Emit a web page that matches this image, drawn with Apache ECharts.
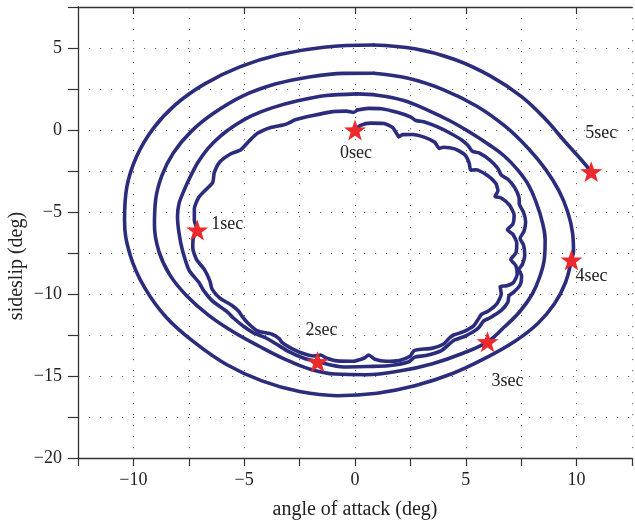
<!DOCTYPE html>
<html>
<head>
<meta charset="utf-8">
<script src="https://cdn.jsdelivr.net/npm/echarts@6/dist/echarts.min.js"></script>
<style>
  html, body { margin: 0; padding: 0; background: #fff; }
  #chart { width: 635px; height: 528px; }
</style>
</head>
<body>
<div id="chart"></div>
<script>
// Trajectory in the (angle of attack, sideslip) plane, one array per revolution, clockwise from the top.
const loop1 = [
  [0,0],[0.25,0.28],[0.7,0.42],[1.3,0.4],[1.7,0.15],[1.92,-0.3],[1.97,-0.42],
  [2.15,-0.28],[2.6,-0.27],[3.15,-0.45],[3.6,-0.75],[3.8,-1.12],
  [4.0,-1.05],[4.5,-1.15],[4.95,-1.5],[5.15,-2.0],[5.22,-2.45],
  [5.45,-2.42],[5.95,-2.75],[6.35,-3.25],[6.45,-3.7],[6.32,-4.05],
  [6.6,-4.15],[6.98,-4.6],[7.18,-5.2],[7.12,-5.75],[6.88,-6.08],
  [7.12,-6.35],[7.3,-6.9],[7.26,-7.5],[7.03,-7.9],
  [7.25,-8.25],[7.32,-8.8],[7.15,-9.3],[6.85,-9.5],[6.55,-9.55],
  [6.6,-10.0],[6.4,-10.6],[6.0,-11.05],[5.7,-11.25],[5.58,-11.5],
  [5.35,-11.95],[4.9,-12.3],[4.45,-12.5],[4.25,-12.7],
  [4.0,-13.05],[3.5,-13.3],[2.9,-13.38],[2.66,-13.45],
  [2.48,-13.8],[2.0,-14.05],[1.4,-14.1],[0.9,-13.98],[0.62,-13.72],
  [0.4,-13.92],[-0.1,-14.1],[-0.8,-14.08],[-1.3,-13.9],[-1.55,-13.72],
  [-1.85,-13.78],[-2.4,-13.6],[-2.95,-13.25],[-3.3,-12.95],[-3.42,-12.72],
  [-3.75,-12.45],[-4.4,-12.25],[-4.85,-11.75],[-5.1,-11.35],[-5.25,-11.05],
  [-5.55,-10.7],[-6.1,-10.25],[-6.45,-9.7],[-6.55,-9.2],
  [-6.8,-8.5],[-7.15,-7.9],[-7.32,-7.2],[-7.3,-6.6],[-7.12,-6.1],[-7.25,-5.5],[-7.25,-4.8],
  [-7.05,-4.1],[-6.7,-3.6],[-6.42,-3.2],
  [-6.35,-2.6],[-6.1,-1.95],[-5.6,-1.45],[-5.15,-1.2],
  [-4.8,-0.7],[-4.4,-0.2],[-3.8,0.15],[-3.25,0.3],[-3.0,0.42],
  [-2.7,0.62],[-1.9,0.88],[-1.0,1.12],[-0.4,1.15],[-0.05,1.08],[0.1,1.22]
];
const loop2 = [
  [0.1,1.22],[0.6,1.32],[1.2,1.3],[1.9,1.08],[2.5,0.8],[2.75,0.58],
  [3.1,0.5],[3.7,0.2],[4.3,-0.2],[4.8,-0.6],[5.1,-0.95],[5.3,-1.3],
  [5.6,-1.4],[6.1,-1.85],[6.45,-2.35],[6.6,-2.75],
  [6.9,-3.0],[7.2,-3.5],[7.4,-4.1],[7.42,-4.55],
  [7.6,-5.0],[7.7,-5.6],[7.62,-6.2],[7.45,-6.6],
  [7.6,-7.0],[7.66,-7.6],[7.55,-8.2],[7.4,-8.5],
  [7.52,-8.9],[7.45,-9.45],[7.15,-9.9],[6.95,-10.1],
  [6.9,-10.5],[6.6,-11.0],[6.1,-11.45],[5.8,-11.65],
  [5.55,-12.1],[5.0,-12.55],[4.5,-12.8],[4.3,-13.0],
  [3.9,-13.45],[3.2,-13.75],[2.7,-13.85],
  [2.4,-14.15],[1.5,-14.38],[0.6,-14.42],[-0.5,-14.45],[-1.69,-14.13],[-2.3,-13.92],
  [-3.03,-13.48],[-3.55,-13.05],[-4.07,-12.65],[-4.6,-12.35],[-5.05,-11.95],
  [-5.5,-11.45],[-5.75,-11.1],[-6.45,-10.4],[-6.85,-9.75],[-7.04,-9.3],
  [-7.49,-8.54],[-7.79,-7.32],[-7.94,-6.3],[-8.01,-5.29],[-7.94,-4.47],[-7.72,-3.7],
  [-7.45,-2.9],[-7.1,-2.0],[-6.65,-1.15],[-6.1,-0.4],[-5.4,0.3],[-4.7,0.85],
  [-3.75,1.35],[-2.58,1.78],[-1.3,2.1],[0.1,2.2]
];
const loop3 = [
  [0.1,2.2],[1.0,2.12],[2.2,1.8],[3.3,1.2],[4.3,0.55],[5.2,-0.15],[6.0,-0.85],[6.75,-1.6],[7.35,-2.45],
  [7.85,-3.4],[8.2,-4.5],[8.45,-5.6],[8.58,-6.7],[8.55,-7.8],[8.35,-8.9],[8.0,-10.0],[7.45,-11.05],
  [6.75,-12.0],[5.98,-12.91],[4.9,-13.6],[3.5,-14.25],[2.0,-14.7],[0.5,-14.92],[-0.9,-14.88],
  [-2.1,-14.55],[-3.2,-13.95],[-4.3,-13.2],[-5.5,-12.3],[-6.6,-11.3],[-7.6,-10.1],[-8.35,-8.85],
  [-8.85,-7.4],[-9.05,-5.8],[-9.0,-4.3],[-8.72,-2.8],[-8.2,-1.4],[-7.4,-0.1],[-6.4,1.0],[-5.1,2.05],
  [-3.6,2.8],[-2.0,3.25],[-0.5,3.45],[0.84,3.46]
];
const loop4 = [
  [0.84,3.46],[2.4,3.15],[4.0,2.45],[5.5,1.45],[6.8,0.2],[7.8,-1.1],[8.6,-2.4],[9.2,-3.7],[9.6,-5.0],
  [9.82,-6.3],[9.86,-7.4],[9.77,-7.93],[9.5,-9.3],[9.0,-10.6],[8.25,-11.8],[7.2,-12.9],[5.9,-13.9],
  [4.4,-14.85],[2.7,-15.6],[1.0,-16.05],[-0.8,-16.2],[-2.5,-15.95],[-4.2,-15.3],[-5.8,-14.3],
  [-7.2,-13.0],[-8.5,-11.45],[-9.5,-9.6],[-10.15,-7.6],[-10.4,-5.5],[-10.3,-3.5],[-9.85,-1.6],
  [-9.1,0.1],[-8.1,1.55],[-6.8,2.8],[-5.2,3.85],[-3.4,4.6],[-1.4,5.05],[0.84,5.18]
];
const loop5 = [
  [0.84,5.18],[2.7,4.95],[4.5,4.3],[6.1,3.3],[7.5,2.05],[8.6,0.65],[9.5,-0.75],[10.2,-1.8],[10.66,-2.54]
];

// Time stamps along the trajectory
const markerAlpha = [0, -7.12, -1.69, 5.98, 9.77, 10.66];
const markerBeta  = [0, -6.1, -14.13, -12.91, -7.93, -2.54];
const markerText  = ['0sec', '1sec', '2sec', '3sec', '4sec', '5sec'];
const markerLabelOffset = [[1, 23], [30, -6], [4, -31], [20, 40], [20, 16], [10, -38]];

// Axis ticks
const xTicks = { min: -12.5, max: 12.5, step: 2.5 };
const yTicks = { min: -20, max: 7.5, step: 2.5 };

const SERIF = '"Liberation Serif", "DejaVu Serif", serif';
const LINE_COLOR = '#2b2d7c';
const STAR = 'path://M0,-10L2.35,-3.24L9.51,-3.09L3.8,1.24L5.88,8.09L0,4L-5.88,8.09L-3.8,1.24L-9.51,-3.09L-2.35,-3.24Z';

function tickLabel(v) {
  if (Math.abs(v % 5) > 1e-9) return '';
  return String(v).replace('-', '\u2212');
}

const gridLine = { show: true, lineStyle: { color: '#666', width: 1, type: [1.2, 9.8] } };

function loopSeries(data, smooth) {
  return {
    type: 'line', data: data, smooth: smooth, showSymbol: false, silent: true,
    lineStyle: { color: LINE_COLOR, width: 3.6, cap: 'round', join: 'round' },
    z: 2
  };
}

const chart = echarts.init(document.getElementById('chart'), null, { renderer: 'canvas' });
chart.setOption({
  animation: false,
  backgroundColor: '#fff',
  grid: { left: 78, top: 7, width: 560, height: 451, containLabel: false },
  xAxis: [{
    type: 'value', position: 'bottom',
    min: xTicks.min, max: xTicks.max, interval: xTicks.step,
    name: 'angle of attack (deg)', nameLocation: 'middle', nameGap: 42,
    nameTextStyle: { fontFamily: SERIF, fontSize: 20, color: '#222' },
    axisLine: { show: true, onZero: false, lineStyle: { color: '#333', width: 1.3 } },
    axisTick: { show: true, length: 8, lineStyle: { color: '#333', width: 1.2 } },
    axisLabel: { formatter: tickLabel, fontFamily: SERIF, fontSize: 18, color: '#222', margin: 13 },
    splitLine: gridLine
  }, {
    type: 'value', position: 'top',
    min: xTicks.min, max: xTicks.max, interval: xTicks.step,
    axisLine: { show: true, onZero: false, lineStyle: { color: '#333', width: 1.3 } },
    axisTick: { show: true, inside: true, length: 7, customValues: [-10, -5, 0, 5, 10], lineStyle: { color: '#333', width: 1.2 } },
    axisLabel: { show: false },
    splitLine: { show: false }
  }],
  yAxis: [{
    type: 'value',
    min: yTicks.min, max: yTicks.max, interval: yTicks.step,
    axisLine: { show: true, onZero: false, lineStyle: { color: '#333', width: 1.3 } },
    axisTick: { show: true, length: 10, lineStyle: { color: '#333', width: 1.2 } },
    axisLabel: { formatter: tickLabel, fontFamily: SERIF, fontSize: 18, color: '#222', margin: 16 },
    splitLine: gridLine
  }],
  graphic: [{
    type: 'text', rotation: Math.PI / 2,
    x: 17, y: 266,
    style: { text: 'sideslip (deg)', font: '20px ' + SERIF, fill: '#222', align: 'center', verticalAlign: 'middle' }
  }],
  series: [
    loopSeries(loop1, 0.2),
    loopSeries(loop2, 0.25),
    loopSeries(loop3, 0.4),
    loopSeries(loop4, 0.4),
    loopSeries(loop5, 0.4),
    {
      type: 'scatter', silent: true, z: 5,
      symbol: STAR, symbolSize: 22, symbolKeepAspect: true,
      itemStyle: { color: '#ec2a2e', opacity: 1 },
      data: markerAlpha.map((a, i) => ({
        value: [a, markerBeta[i]],
        label: {
          show: true, formatter: markerText[i], position: 'inside',
          offset: markerLabelOffset[i], align: 'center', verticalAlign: 'middle',
          fontFamily: SERIF, fontSize: 18, color: '#222'
        }
      }))
    }
  ]
});
</script>
</body>
</html>
